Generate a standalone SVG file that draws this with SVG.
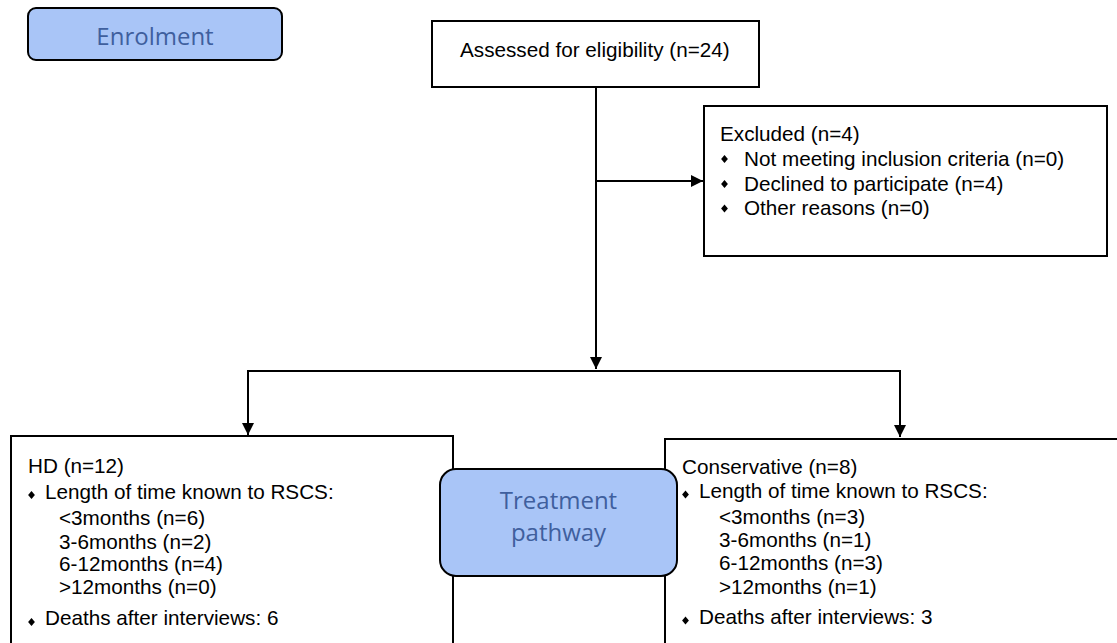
<svg xmlns="http://www.w3.org/2000/svg" width="1117" height="643" viewBox="0 0 1117 643">
  <style>
    .box { fill: #ffffff; stroke: #000000; stroke-width: 2; }
    .label { fill: #a9c5f7; stroke: #000000; stroke-width: 2; }
    .lt { font-family: "Open Sans", "Liberation Sans", sans-serif; font-size: 24px; fill: #3f5f9e; text-anchor: middle; }
    .t { font-family: "Liberation Sans", Arial, sans-serif; font-size: 20.7px; fill: #000000; }
    .conn { fill: none; stroke: #000000; stroke-width: 2; }
  </style>
  <defs>
    <marker id="arrow" markerUnits="userSpaceOnUse" markerWidth="13" markerHeight="13" refX="12" refY="6" orient="auto">
      <path d="M0,0 L12,6 L0,12 z" fill="#000000"/>
    </marker>
    <path id="dia" d="M0,-4 L3.4,0 L0,4 L-3.4,0 z" fill="#000000"/>
  </defs>

  <g id="enrolment">
    <rect class="label" x="28" y="8" width="254" height="52" rx="8" ry="8"/>
    <text class="lt" x="155" y="45">Enrolment</text>
  </g>

  <g id="assessed">
    <rect class="box" x="432" y="21" width="327" height="66"/>
    <text class="t" x="460" y="57">Assessed for eligibility (n=24)</text>
  </g>

  <g id="excluded">
    <rect class="box" x="704" y="106" width="403" height="150"/>
    <text class="t" x="720" y="141">Excluded (n=4)</text>
    <use href="#dia" x="724.5" y="159"/>
    <text class="t" x="744" y="166">Not meeting inclusion criteria (n=0)</text>
    <use href="#dia" x="724.5" y="184"/>
    <text class="t" x="744" y="191">Declined to participate (n=4)</text>
    <use href="#dia" x="724.5" y="208.5"/>
    <text class="t" x="744" y="215">Other reasons (n=0)</text>
  </g>

  <g id="hd">
    <rect class="box" x="11" y="436" width="442" height="220"/>
    <text class="t" x="28" y="473">HD (n=12)</text>
    <use href="#dia" x="31.5" y="495"/>
    <text class="t" x="45" y="498.5">Length of time known to RSCS:</text>
    <text class="t" x="59" y="525">&lt;3months (n=6)</text>
    <text class="t" x="59" y="548.5">3-6months (n=2)</text>
    <text class="t" x="59" y="571">6-12months (n=4)</text>
    <text class="t" x="59" y="594">&gt;12months (n=0)</text>
    <use href="#dia" x="31.5" y="622"/>
    <text class="t" x="45" y="625">Deaths after interviews: 6</text>
  </g>

  <g id="conservative">
    <rect class="box" x="665" y="439" width="470" height="220"/>
    <text class="t" x="682" y="474">Conservative (n=8)</text>
    <use href="#dia" x="685.5" y="494.5"/>
    <text class="t" x="699" y="498">Length of time known to RSCS:</text>
    <text class="t" x="719" y="523.5">&lt;3months (n=3)</text>
    <text class="t" x="719" y="547">3-6months (n=1)</text>
    <text class="t" x="719" y="570">6-12months (n=3)</text>
    <text class="t" x="719" y="593.5">&gt;12months (n=1)</text>
    <use href="#dia" x="685.5" y="620.5"/>
    <text class="t" x="699" y="623.5">Deaths after interviews: 3</text>
  </g>

  <g id="treatment">
    <rect class="label" x="440" y="469" width="237" height="107" rx="16" ry="16"/>
    <text class="lt" x="558.5" y="509">Treatment</text>
    <text class="lt" x="558.5" y="541">pathway</text>
  </g>

  <g id="connectors">
    <path class="conn" d="M596,87 V369" marker-end="url(#arrow)"/>
    <path class="conn" d="M596,181 H703" marker-end="url(#arrow)"/>
    <path class="conn" d="M247,371 H901"/>
    <path class="conn" d="M248,370 V435" marker-end="url(#arrow)"/>
    <path class="conn" d="M900,370 V437" marker-end="url(#arrow)"/>
  </g>
</svg>
